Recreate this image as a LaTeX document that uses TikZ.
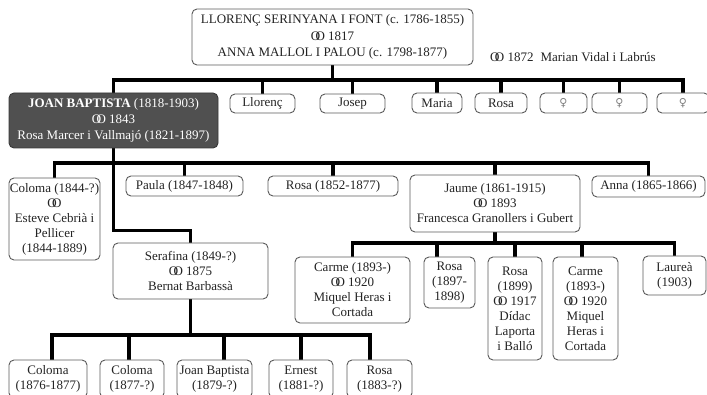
\documentclass[tikz,border=0pt]{standalone}
\usepackage{fontspec}
\setmainfont{Liberation Serif}
\newfontfamily\symfont{DejaVu Sans}
\usetikzlibrary{backgrounds}
\definecolor{bordergray}{RGB}{90,90,90}
\definecolor{txt}{RGB}{35,35,35}
\definecolor{darkfill}{RGB}{80,80,80}
\newcommand\mar{\mbox{O\kern-0.36em O}}
\newcommand\fem{{\symfont\color{gray}\fontsize{11}{13}\selectfont ♀}}
\begin{document}
\begin{tikzpicture}[x=1pt,y=-1pt,
  pbox/.style={draw=bordergray, fill=white, line width=0.9pt, rounded corners=5pt,
    inner sep=0pt, align=center, text=txt, font=\fontsize{13}{15}\selectfont},
  conn/.style={line width=3.8pt, line cap=rect, line join=miter, black}]
\useasboundingbox (0,0) rectangle (707,395);

% generation 1
\node[pbox, minimum width=281, minimum height=56, font=\fontsize{13}{16.5}\selectfont] (top) at (332.5,37)
  {LLORENÇ SERINYANA I FONT (c. 1786-1855)\\\mar{} 1817\\ANNA MALLOL I PALOU (c. 1798-1877)};
\node[text=txt, font=\fontsize{13}{15}\selectfont, anchor=west, inner sep=0pt] (mar2) at (490,57)
  {\mar{} 1872\hspace{7pt}Marian Vidal i Labrús};

% generation 2
\node[pbox, fill=darkfill, draw=darkfill!70!black, text=white, minimum width=209, minimum height=55,
  font=\fontsize{13}{16}\selectfont] (joan) at (113.5,120.5)
  {\textbf{JOAN BAPTISTA} (1818-1903)\\\mar{} 1843\\Rosa Marcer i Vallmajó (1821-1897)};
\node[pbox, minimum width=65, minimum height=19] (llo) at (262.5,103.5) {Llorenç};
\node[pbox, minimum width=65, minimum height=19] (jos) at (352.5,103.5) {Josep};
\node[pbox, minimum width=50, minimum height=20] (mar) at (437,103) {Maria};
\node[pbox, minimum width=52, minimum height=20] (ros) at (501,103) {Rosa};
\node[pbox, minimum width=47, minimum height=20] (f1) at (563.5,103) {\fem};
\node[pbox, minimum width=55, minimum height=20] (f2) at (619.5,103) {\fem};
\node[pbox, minimum width=52, minimum height=20] (f3) at (683,103) {\fem};

% generation 3
\node[pbox, minimum width=91, minimum height=82] (col) at (54.5,219)
  {Coloma (1844-?)\\\mar\\Esteve Cebrià i\\Pellicer\\(1844-1889)};
\node[pbox, minimum width=117, minimum height=20] (pau) at (184.5,186) {Paula (1847-1848)};
\node[pbox, minimum width=130, minimum height=20] (ros2) at (333,186) {Rosa (1852-1877)};
\node[pbox, minimum width=170, minimum height=57] (jau) at (495,203.5)
  {Jaume (1861-1915)\\\mar{} 1893\\Francesca Granollers i Gubert};
\node[pbox, minimum width=113, minimum height=21] (ann) at (648.5,186.5) {Anna (1865-1866)};
\node[pbox, minimum width=155, minimum height=56] (sera) at (190.5,271)
  {Serafina (1849-?)\\\mar{} 1875\\Bernat Barbassà};

% Jaume's children
\node[pbox, minimum width=115, minimum height=66] (car1) at (352.5,290)
  {Carme (1893-)\\\mar{} 1920\\Miquel Heras i\\Cortada};
\node[pbox, minimum width=51, minimum height=51] (r97) at (449.5,282.5) {Rosa\\(1897-\\1898)};
\node[pbox, minimum width=54, minimum height=103] (r99) at (515,308.5)
  {Rosa\\(1899)\\\mar{} 1917\\Dídac\\Laporta\\i Balló};
\node[pbox, minimum width=65, minimum height=103] (car2) at (585.5,308.5)
  {Carme\\(1893-)\\\mar{} 1920\\Miquel\\Heras i\\Cortada};
\node[pbox, minimum width=63, minimum height=39] (lau) at (674.5,275.5) {Laureà\\(1903)};

% Serafina's children
\node[pbox, minimum width=78, minimum height=38] (c1) at (48,379) {Coloma\\(1876-1877)};
\node[pbox, minimum width=64, minimum height=38] (c2) at (132,379) {Coloma\\(1877-?)};
\node[pbox, minimum width=75, minimum height=38] (jb) at (214.5,379) {Joan Baptista\\(1879-?)};
\node[pbox, minimum width=64, minimum height=38] (ern) at (301,379) {Ernest\\(1881-?)};
\node[pbox, minimum width=65, minimum height=38] (ros3) at (379.5,379) {Rosa\\(1883-?)};

% bus levels and shifted drop points
\coordinate (bus1) at (0,80);
\coordinate (bus2) at (0,163);
\coordinate (bus3) at (0,243);
\coordinate (bus4) at (0,335);
\coordinate (r97d) at ([xshift=-12.5pt]r97.north);
\coordinate (car2d) at ([xshift=-3.5pt]car2.north);
\coordinate (c1d) at ([xshift=4pt]c1.north);
\coordinate (c2d) at ([xshift=-3pt]c2.north);
\coordinate (jbd) at ([xshift=9.5pt]jb.north);
\coordinate (ros3d) at ([xshift=-9.5pt]ros3.north);

\begin{pgfonlayer}{background}
\draw[conn] (top.south) -- (top.south |- bus1);
\draw[conn] (joan.north |- bus1) -- (f3.north |- bus1);
\foreach \n in {joan,llo,jos,mar,ros,f1,f2,f3}
  \draw[conn] (\n.north) -- (\n.north |- bus1);

\draw[conn] (col.north |- bus2) -- (ann.north |- bus2);
\foreach \n in {col,pau,ros2,jau,ann}
  \draw[conn] (\n.north) -- (\n.north |- bus2);
\draw[conn] (joan.south) -- ++(0,82) -| (sera.north);

\draw[conn] (jau.south) -- (jau.south |- bus3);
\draw[conn] (car1.north |- bus3) -- (lau.north |- bus3);
\foreach \n in {car1.north,r97d,r99.north,car2d,lau.north}
  \draw[conn] (\n) -- (\n |- bus3);

\draw[conn] (sera.south) -- (sera.south |- bus4);
\draw[conn] (c1d |- bus4) -- (ros3d |- bus4);
\foreach \n in {c1d,c2d,jbd,ern.north,ros3d}
  \draw[conn] (\n) -- (\n |- bus4);
\end{pgfonlayer}
\end{tikzpicture}
\end{document}
